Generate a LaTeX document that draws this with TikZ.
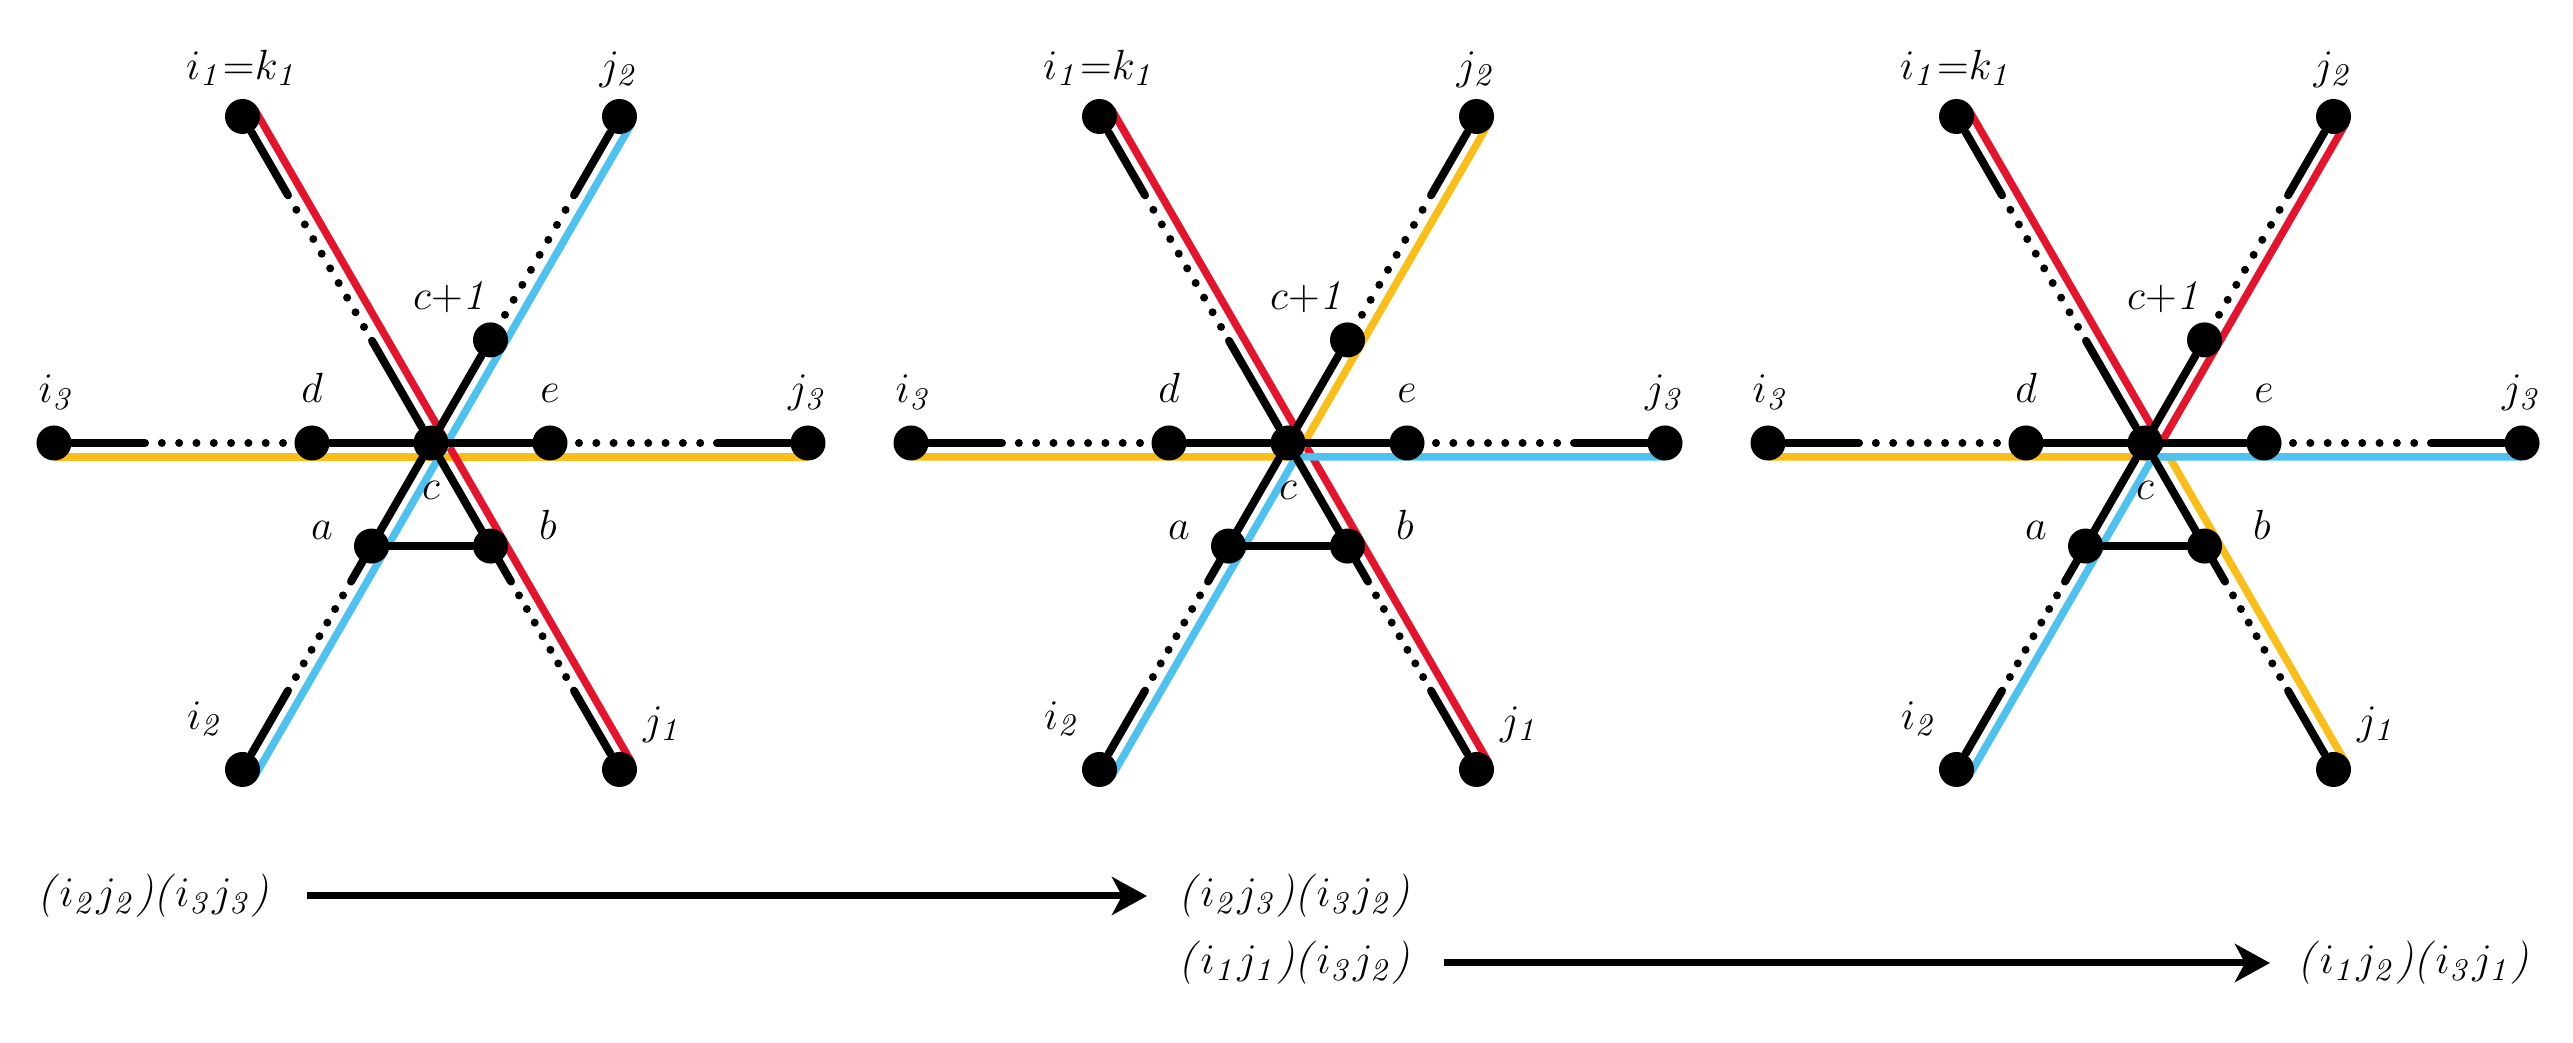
\documentclass[tikz,border=0pt]{standalone}
\usepackage{amsmath}
\usepackage{tikz}
\usetikzlibrary{calc}
\usetikzlibrary{backgrounds}
\usetikzlibrary{arrows.meta}
\tikzset{pt/.style = {fill, circle, inner sep = 0, minimum size = 0.35cm}}
\tikzset{seg/.style = {line width = 0.08cm, line cap = round}}
\tikzset{dotseg/.style = {line width = 0.08cm, line cap = round,
                          dash pattern = on 0pt off #1}}
\tikzset{route/.style = {line width = 0.075cm}}
\tikzset{lab/.style = {inner sep = 0}}
\tikzset{perm/.style = {inner sep = 0, font = \fontsize{12.3}{15}\selectfont}}
\tikzset{arr/.style = {line width = 0.07cm,
                       -{Stealth[length = 0.35cm, width = 0.38cm, inset = 0.1cm]}}}
\definecolor{mred}{HTML}{E5132B}
\definecolor{mblue}{HTML}{4DC2F0}
\definecolor{morange}{HTML}{FBBD18}
\newcommand{\trp}[2]{\textit{(}$i_{\mathit{#1}}j_{\mathit{#2}}$\textit{)}}

\begin{document}
\begin{tikzpicture}[x = 0.01cm, y = 0.01cm, font = \fontsize{13.2}{16}\selectfont]
    \useasboundingbox (0, 0) rectangle (2573, 1043);

    \foreach \n/\cx in {1/431, 2/1288, 3/2145} {
      \node [pt] (c\n) at (\cx, 600) {};
      % outer ends
      \node [pt] (ione\n) at ($(c\n) + (120:377)$) {};
      \node [pt] (jtwo\n) at ($(c\n) + (60:377)$) {};
      \node [pt] (ithree\n) at ($(c\n) + (180:377)$) {};
      \node [pt] (jthree\n) at ($(c\n) + (0:377)$) {};
      \node [pt] (itwo\n) at ($(c\n) + (240:377)$) {};
      \node [pt] (jone\n) at ($(c\n) + (300:377)$) {};
      % inner vertices
      \node [pt] (d\n) at ($(c\n) + (180:119)$) {};
      \node [pt] (e\n) at ($(c\n) + (0:119)$) {};
      \node [pt] (cp\n) at ($(c\n) + (60:119)$) {};
      \node [pt] (a\n) at ($(c\n) + (240:119)$) {};
      \node [pt] (b\n) at ($(c\n) + (300:119)$) {};

      \node [lab, anchor = base] (lione\n) at ($(ione\n) + (0, 37)$) {$i_{\mathit{1}}{=}k_{\mathit{1}}$};
      \node [lab, anchor = base] (ljtwo\n) at ($(jtwo\n) + (0, 37)$) {$j_{\mathit{2}}$};
      \node [lab, anchor = base] (lithree\n) at ($(ithree\n) + (3, 40)$) {$i_{\mathit{3}}$};
      \node [lab, anchor = base] (ljthree\n) at ($(jthree\n) + (0, 40)$) {$j_{\mathit{3}}$};
      \node [lab, anchor = base] (ld\n) at ($(d\n) + (0, 40)$) {$d$};
      \node [lab, anchor = base] (le\n) at ($(e\n) + (0, 40)$) {$e$};
      \node [lab, anchor = base] (lc\n) at ($(c\n) + (0, -57)$) {$c$};
      \node [lab, anchor = base east] (lcp\n) at ($(cp\n) + (0, 30)$) {$c{+}\mathit{1}$};
      \node [lab, anchor = base east] (la\n) at ($(a\n) + (-38, 7)$) {$a$};
      \node [lab, anchor = base west] (lb\n) at ($(b\n) + (48, 7)$) {$b$};
      \node [lab, anchor = base east] (litwo\n) at ($(itwo\n) + (-18, 40)$) {$i_{\mathit{2}}$};
      \node [lab, anchor = base west] (ljone\n) at ($(jone\n) + (23, 35)$) {$j_{\mathit{1}}$};

      % solid pieces
      \draw [seg] (c\n) -- (d\n);
      \draw [seg] (c\n) -- (e\n);
      \draw [seg] (c\n) -- (cp\n);
      \draw [seg] (c\n) -- ($(c\n) + (120:118)$);
      \draw [seg] (c\n) -- ($(c\n) + (240:160)$);
      \draw [seg] (c\n) -- ($(c\n) + (300:160)$);
      \draw [seg] (a\n) -- (b\n);
      \draw [seg] (ione\n) -- ($(c\n) + (120:286)$);
      \draw [seg] (jtwo\n) -- ($(c\n) + (60:286)$);
      \draw [seg] (ithree\n) -- ($(c\n) + (180:286)$);
      \draw [seg] (jthree\n) -- ($(c\n) + (0:286)$);
      \draw [seg] (itwo\n) -- ($(c\n) + (240:286)$);
      \draw [seg] (jone\n) -- ($(c\n) + (300:286)$);
      % dotted pieces
      \draw [dotseg = 0.173cm] ($(c\n) + (180:148)$) -- ($(c\n) + (180:270)$);
      \draw [dotseg = 0.173cm] ($(c\n) + (0:148)$) -- ($(c\n) + (0:270)$);
      \draw [dotseg = 0.173cm] ($(c\n) + (60:148)$) -- ($(c\n) + (60:270)$);
      \draw [dotseg = 0.169cm] ($(c\n) + (120:134)$) -- ($(c\n) + (120:270)$);
      \draw [dotseg = 0.157cm] ($(c\n) + (240:176)$) -- ($(c\n) + (240:271)$);
      \draw [dotseg = 0.157cm] ($(c\n) + (300:176)$) -- ($(c\n) + (300:271)$);
    }

    \begin{pgfonlayer}{background}
      % first picture
      \draw [route, morange] ($(ithree1) + (270:14)$) -- ($(jthree1) + (270:14)$);
      \draw [route, mred] ($(ione1) + (30:14)$) -- ($(jone1) + (30:14)$);
      \draw [route, mblue] ($(itwo1) + (-30:14)$) -- ($(jtwo1) + (-30:14)$);
      % second picture
      \draw [route, mred] ($(ione2) + (30:14)$) -- ($(jone2) + (30:14)$);
      \draw [route, morange] ($(ithree2) + (270:14)$) -- ($(c2) + (8.08, -14)$)
                             -- ($(jtwo2) + (-30:14)$);
      \draw [route, mblue] ($(itwo2) + (-30:14)$) -- ($(c2) + (8.08, -14)$)
                           -- ($(jthree2) + (270:14)$);
      % third picture
      \draw [route, morange] ($(ithree3) + (270:14)$) -- ($(c3) + (24.25, -14)$)
                             -- ($(jone3) + (30:14)$);
      \draw [route, mred] ($(ione3) + (30:14)$) -- ($(c3) + (16.17, 0)$)
                          -- ($(jtwo3) + (-30:14)$);
      \draw [route, mblue] ($(itwo3) + (-30:14)$) -- ($(c3) + (8.08, -14)$)
                           -- ($(jthree3) + (270:14)$);
    \end{pgfonlayer}

    \node [perm, anchor = west] (ta) at (37, 147) {\trp{2}{2}\trp{3}{3}};
    \node [perm, anchor = west] (tb) at (1178, 147) {\trp{2}{3}\trp{3}{2}};
    \node [perm, anchor = west] (tc) at (1178, 80) {\trp{1}{1}\trp{3}{2}};
    \node [perm, anchor = west] (td) at (2297, 80) {\trp{1}{2}\trp{3}{1}};
    \draw [arr, shorten < = 0.37cm, shorten > = 0.31cm] (ta) -- (tb);
    \draw [arr, shorten < = 0.33cm, shorten > = 0.27cm] (tc) -- (td);
  \end{tikzpicture}
\end{document}
